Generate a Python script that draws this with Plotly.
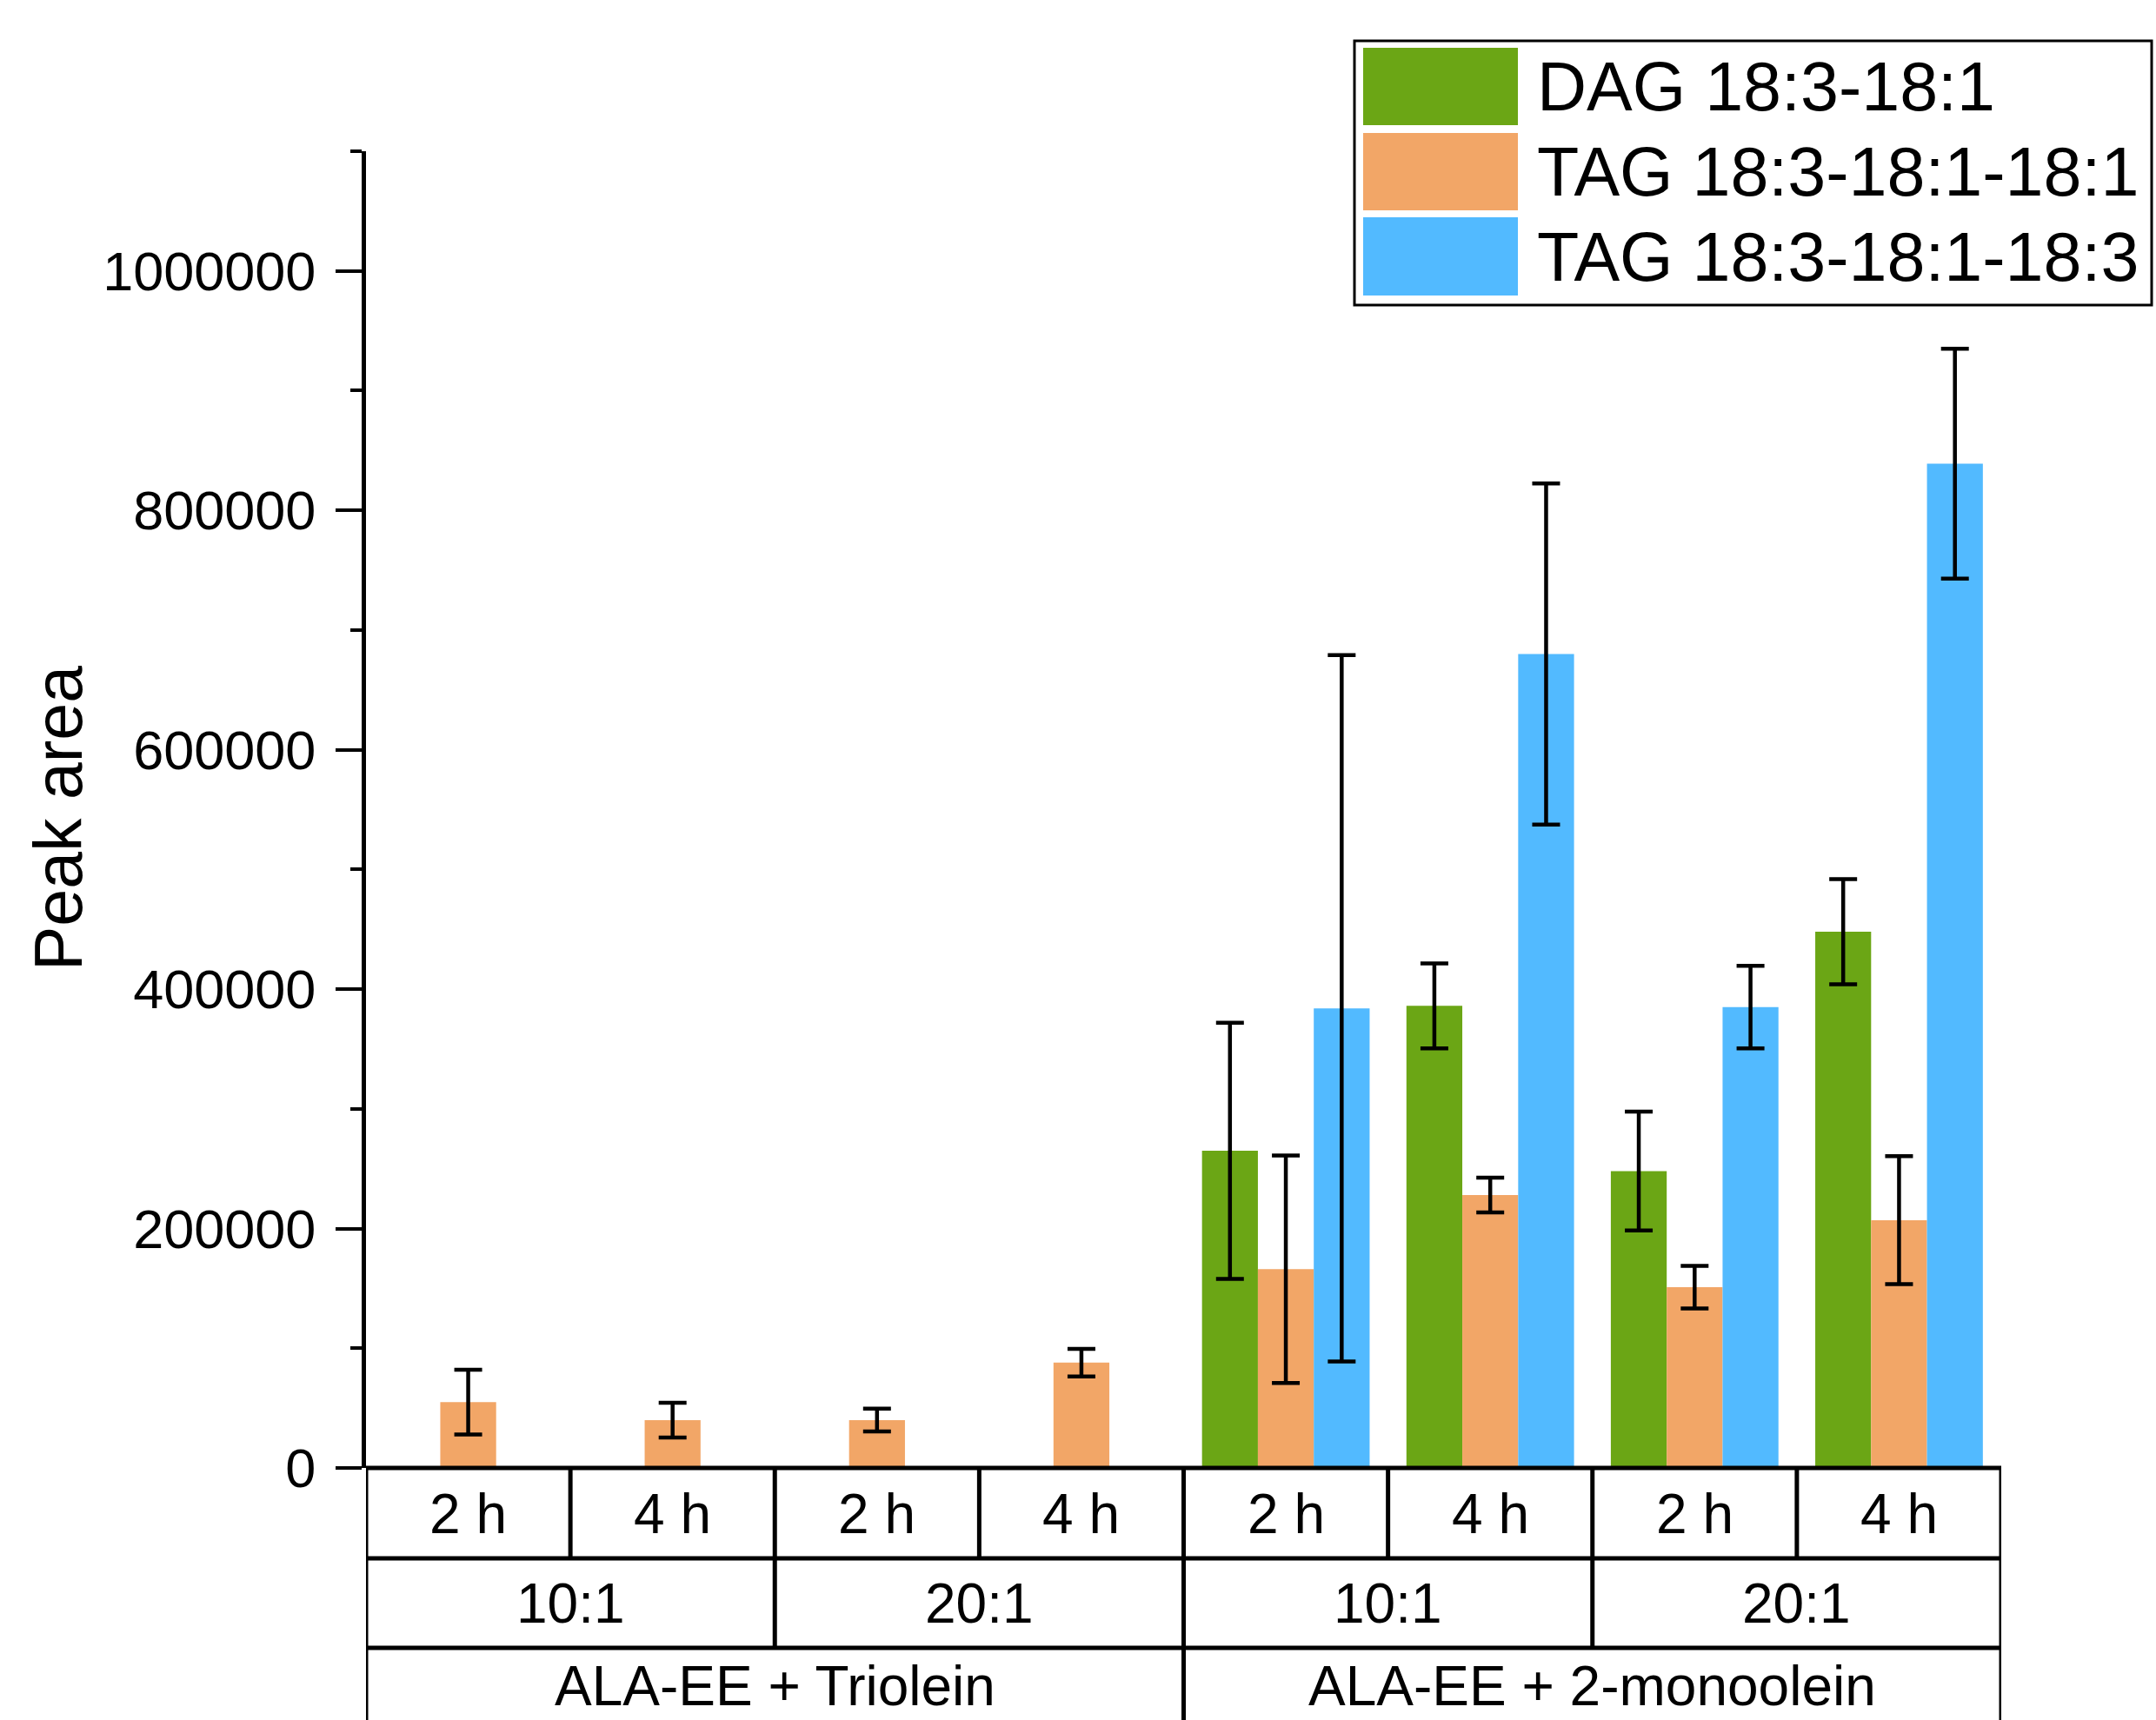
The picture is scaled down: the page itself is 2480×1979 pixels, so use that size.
import plotly.graph_objects as go

# ---- data -------------------------------------------------------------
times = ["2 h", "4 h", "2 h", "4 h", "2 h", "4 h", "2 h", "4 h"]
ratios = ["10:1", "20:1", "10:1", "20:1"]
mixtures = ["ALA-EE + Triolein", "ALA-EE + 2-monoolein"]

series_names = ["DAG 18:3-18:1", "TAG 18:3-18:1-18:1", "TAG 18:3-18:1-18:3"]
series_colors = ["#6ba615", "#f2a667", "#52baff"]

dag = [None, None, None, None, 265000, 386000, 248000, 448000]
dag_err = [0, 0, 0, 0, 107000, 35500, 49600, 44000]

tag_ooo = [55000, 40000, 40000, 88000, 166000, 228000, 151000, 207000]
tag_ooo_err = [27000, 14500, 9500, 11500, 95000, 14500, 17800, 53500]

tag_lol = [None, None, None, None, 384000, 680000, 385000, 839000]
tag_lol_err = [0, 0, 0, 0, 295000, 142500, 34500, 96000]

values = [dag, tag_ooo, tag_lol]
errors = [dag_err, tag_ooo_err, tag_lol_err]

# ---- page geometry (pixels) -------------------------------------------
W, H = 2480, 1979
L, R = 421, 2302      # plot area left / right
T, B = 174, 1689      # plot area top / bottom (y = 0)
FONT = "Liberation Sans, Arial, sans-serif"


def px_x(x):
    return (x - L) / (R - L)


def px_y(y):
    return (B - y) / (B - T)


xs = list(range(len(times)))

fig = go.Figure()
for name, col, v, e in zip(series_names, series_colors, values, errors):
    fig.add_trace(go.Bar(
        x=xs, y=v, name=name,
        marker=dict(color=col, line=dict(width=0)),
        error_y=dict(type="data", array=e, visible=True,
                     color="black", thickness=4.5, width=16),
        showlegend=False,
    ))

shapes = []
annotations = []
LW = 5

# ---- category table under the plot -------------------------------------
row_lines = [B, 1793, 1896]
row_centers = [1742, 1845]
bottom = 2100
n = len(times)

# horizontal rules
for y in row_lines:
    shapes.append(dict(type="line", xref="x", yref="paper",
                       x0=-0.5, x1=n - 0.5, y0=px_y(y), y1=px_y(y),
                       line=dict(color="black", width=LW)))
# outer verticals
for xv in (-0.5, n - 0.5):
    shapes.append(dict(type="line", xref="x", yref="paper",
                       x0=xv, x1=xv, y0=px_y(B), y1=px_y(bottom),
                       line=dict(color="black", width=LW)))
# row 1 dividers (time)
for i in range(1, n):
    shapes.append(dict(type="line", xref="x", yref="paper",
                       x0=i - 0.5, x1=i - 0.5, y0=px_y(row_lines[0]), y1=px_y(row_lines[1]),
                       line=dict(color="black", width=LW)))
# row 2 dividers (ratio)
span_r = n // len(ratios)
for i in range(1, len(ratios)):
    xv = i * span_r - 0.5
    shapes.append(dict(type="line", xref="x", yref="paper",
                       x0=xv, x1=xv, y0=px_y(row_lines[1]), y1=px_y(row_lines[2]),
                       line=dict(color="black", width=LW)))
# row 3 dividers (mixture)
span_m = n // len(mixtures)
for i in range(1, len(mixtures)):
    xv = i * span_m - 0.5
    shapes.append(dict(type="line", xref="x", yref="paper",
                       x0=xv, x1=xv, y0=px_y(row_lines[2]), y1=px_y(bottom),
                       line=dict(color="black", width=LW)))

tfont = dict(family=FONT, size=64, color="black")
for i, t in enumerate(times):
    annotations.append(dict(x=i, y=px_y(row_centers[0]), xref="x", yref="paper",
                            text=t, showarrow=False, font=tfont,
                            xanchor="center", yanchor="middle"))
for i, r in enumerate(ratios):
    annotations.append(dict(x=i * span_r + (span_r - 1) / 2, y=px_y(row_centers[1]),
                            xref="x", yref="paper", text=r, showarrow=False,
                            font=tfont, xanchor="center", yanchor="middle"))
# bottom row sits on the page edge
for i, m in enumerate(mixtures):
    annotations.append(dict(x=i * span_m + (span_m - 1) / 2, y=px_y(H - 1),
                            xref="x", yref="paper", text=m, showarrow=False,
                            font=tfont, xanchor="center", yanchor="bottom"))

# ---- y-axis title --------------------------------------------------------
annotations.append(dict(x=px_x(67), y=px_y(942), xref="paper", yref="paper",
                        text="Peak area", textangle=-90, showarrow=False,
                        font=dict(family=FONT, size=77, color="black"),
                        xanchor="center", yanchor="middle"))

# ---- legend box ------------------------------------------------------------
lg_x0, lg_y0, lg_x1, lg_y1 = 1558, 47, 2475, 351
shapes.append(dict(type="rect", xref="paper", yref="paper",
                   x0=px_x(lg_x0), x1=px_x(lg_x1), y0=px_y(lg_y0), y1=px_y(lg_y1),
                   line=dict(color="black", width=3), fillcolor="white", layer="above"))
sw_rows = [(55, 144), (153, 242), (250, 340)]
for (y0, y1), name, col in zip(sw_rows, series_names, series_colors):
    shapes.append(dict(type="rect", xref="paper", yref="paper",
                       x0=px_x(1568), x1=px_x(1746), y0=px_y(y0), y1=px_y(y1),
                       line=dict(width=0), fillcolor=col, layer="above"))
    annotations.append(dict(x=px_x(1766), y=px_y((y0 + y1) / 2), xref="paper", yref="paper",
                            text=name, showarrow=False,
                            font=dict(family=FONT, size=79, color="black"),
                            xanchor="left", yanchor="middle"))

fig.update_layout(
    width=W, height=H,
    margin=dict(l=L, r=W - R, t=T, b=H - B, pad=0),
    paper_bgcolor="white", plot_bgcolor="white",
    barmode="group", bargap=0.18, bargroupgap=0,
    shapes=shapes, annotations=annotations,
    font=dict(family=FONT, color="black"),
    xaxis=dict(range=[-0.5, n - 0.5], showticklabels=False, ticks="",
               showgrid=False, zeroline=False, showline=False, fixedrange=True),
    yaxis=dict(range=[0, 1100000], tickvals=[0, 200000, 400000, 600000, 800000, 1000000],
               ticktext=["0", "200000", "400000", "600000", "800000", "1000000"],
               ticks="outside", ticklen=30, tickwidth=4, tickcolor="black",
               minor=dict(tickvals=[100000, 300000, 500000, 700000, 900000, 1100000],
                          ticks="outside", ticklen=13, tickwidth=4, tickcolor="black"),
               showline=True, linecolor="black", linewidth=5,
               showgrid=False, zeroline=False,
               tickfont=dict(family=FONT, size=63, color="black"),
               ticklabelstandoff=10),
)

fig.write_html("out.html")
